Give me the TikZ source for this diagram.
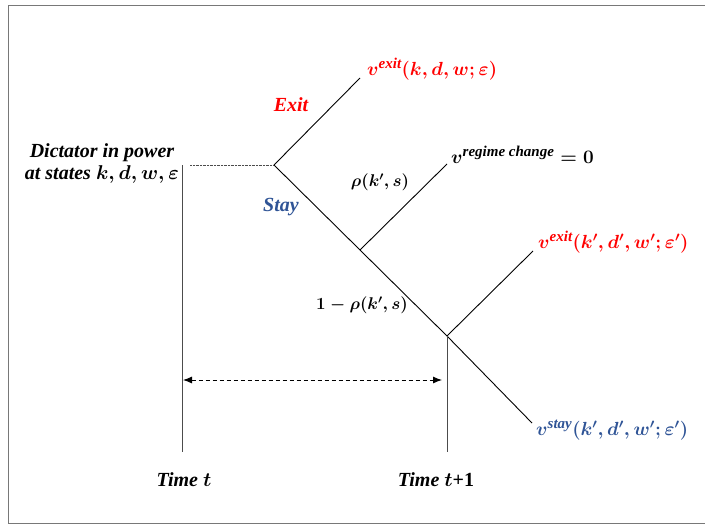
\RequirePackage{fix-cm}
\documentclass[tikz,border=0pt]{standalone}
\usepackage{fontspec}
\setmainfont{Liberation Serif}
\usetikzlibrary{arrows.meta}
\definecolor{exitred}{RGB}{255,0,0}
\definecolor{stayblue}{RGB}{47,84,150}
\definecolor{framegray}{RGB}{120,120,120}
\newcommand\supx[1]{\mbox{\fontsize{15}{15}\selectfont\bfseries\itshape #1}}
\begin{document}
\begin{tikzpicture}[x=1pt,y=-1pt,
  branch/.style={draw=black,line width=0.9pt},
  timeline/.style={draw=black!70,line width=0.9pt},
  lbl/.style={inner sep=0pt,font=\fontsize{20}{22}\selectfont\bfseries\itshape\boldmath},
  vlbl/.style={lbl,anchor=west,font=\fontsize{19}{22}\selectfont\bfseries\boldmath},
  plbl/.style={lbl,font=\fontsize{17}{20}\selectfont\bfseries\boldmath}]
\useasboundingbox (0,0) rectangle (705,525);
\draw[framegray,line width=1pt] (8,5) rectangle (708,523);
% junctions
\coordinate (root) at (274,165);
\coordinate (n2) at (360,250);
\coordinate (n3) at (447,336);
\coordinate (exitend) at (360,78);
\coordinate (regend) at (447,164);
\coordinate (exit2end) at (533,251);
\coordinate (stayend) at (532,423);
\coordinate (dotstart) at (190,165);
\coordinate (ttop) at (182,165);
\coordinate (tbot) at (182,452);
\coordinate (t1bot) at (447,452);
\coordinate (arrL) at (183,380);
\coordinate (arrR) at (442,380);
% lines
\draw[branch] (root) -- (exitend);
\draw[branch] (root) -- (n2) -- (n3) -- (stayend);
\draw[branch] (n2) -- (regend);
\draw[branch] (n3) -- (exit2end);
\draw[timeline] (ttop) -- (tbot);
\draw[timeline] (n3) -- (t1bot);
\draw[black!70,line width=0.7pt,dash pattern=on 0.6pt off 0.8pt] (dotstart) -- (root);
\draw[line width=0.9pt,dash pattern=on 4pt off 3pt,{Latex[length=9pt,width=7pt]}-{Latex[length=9pt,width=7pt]}] (arrL) -- (arrR);
% labels
\node[lbl,align=center] (dict) at (102,164) {Dictator in power\\at states $k,d,w,\varepsilon$};
\node[lbl,text=exitred] (exitlbl) at (291,105) {Exit};
\node[lbl,text=stayblue] (staylbl) at (281,207) {Stay};
\node[vlbl,text=exitred] (vexit) at (367,69) {$v^{\supx{exit}}(k,d,w;\varepsilon)$};
\node[vlbl] (vreg) at (451,155) {$v^{\supx{regime change}}=0$};
\node[plbl] (rho) at (380,182) {$\rho(k',s)$};
\node[vlbl,text=exitred] (vexit2) at (538,242) {$v^{\supx{exit}}(k',d',w';\varepsilon')$};
\node[plbl] (onerho) at (362,305) {$1-\rho(k',s)$};
\node[vlbl,text=stayblue] (vstay) at (536,430) {$v^{\supx{stay}}(k',d',w';\varepsilon')$};
\node[lbl] (timet) at (184,480) {Time $t$};
\node[lbl] (timet1) at (436,480) {Time $t$\textup{+1}};
\end{tikzpicture}
\end{document}
